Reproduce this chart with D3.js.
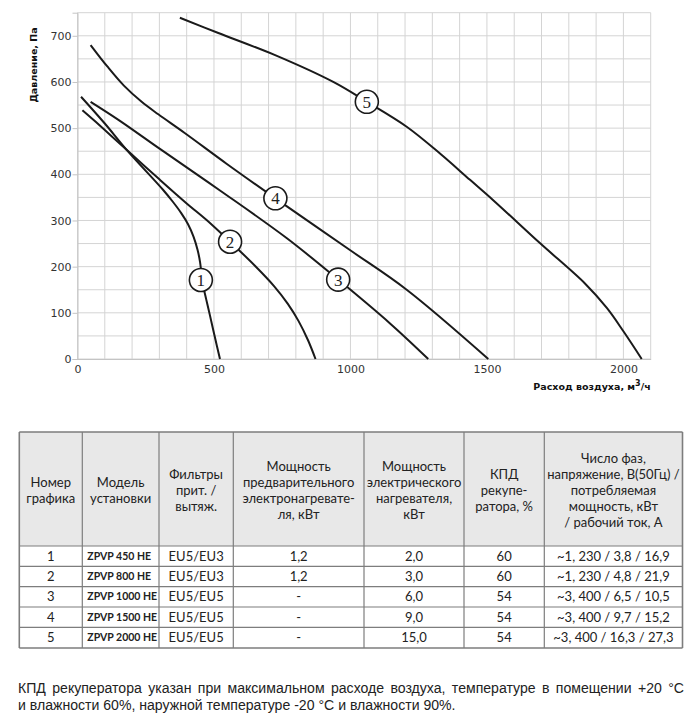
<!DOCTYPE html>
<html>
<head>
<meta charset="utf-8">
<script src="https://cdn.jsdelivr.net/npm/d3@7/dist/d3.min.js"></script>
<style>
  html, body { margin: 0; padding: 0; background: #fff; }
  svg { display: block; }
</style>
</head>
<body>
<svg id="chart" width="691" height="719"></svg>
<script>
// ---------------- DATA ----------------
const curve1 = [[13,568],[100,510],[180,453],[314,366],[350,340],[380,316],[405,292],[425,265],[440,236],[449,210],[454,185],[460,160],[472,128],[485,95],[503,48],[522,0]];
const curve2 = [[18,539],[100,496],[180,453],[302,388],[400,337],[473,301],[559,254],[650,202],[720,158],[770,120],[810,82],[845,40],[872,0]];
const curve3 = [[48,557],[150,518],[302,455],[522,365],[766,262],[955,172],[1145,77],[1285,0]];
const curve4 = [[48,680],[110,633],[170,592],[235,557],[296,530],[394,489],[546,423],[725,348],[998,236],[1206,150],[1505,0]];
const curve5 = [[375,739],[516,706],[724,658],[937,600],[1060,557],[1206,503],[1328,445],[1438,388],[1523,344],[1694,251],[1860,163],[1940,110],[2000,60],[2067,0]];
const curves = [curve1, curve2, curve3, curve4, curve5];
const curveLabels = ["1","2","3","4","5"];
const labelX = [452, 559, 955, 725, 1060];
const labelY = [171, 254, 172, 348, 557];

const xTicks = [0, 500, 1000, 1500, 2000];
const yTicks = [0, 100, 200, 300, 400, 500, 600, 700];
const xTitle = "Расход воздуха, м";
const xTitleSup = "3";
const xTitleEnd = "/ч";
const yTitle = "Давление, Па";

const headers = [
  ["Номер", "графика"],
  ["Модель", "установки"],
  ["Фильтры", "прит. /", "вытяж."],
  ["Мощность", "предварительного", "электронагревате-", "ля, кВт"],
  ["Мощность", "электрического", "нагревателя,", "кВт"],
  ["КПД", "рекупе-", "ратора, %"],
  ["Число фаз,", "напряжение, В(50Гц) /", "потребляемая", "мощность, кВт", "/ рабочий ток, А"]
];
const colNumber = ["1","2","3","4","5"];
const colModel = ["ZPVP 450 HE","ZPVP 800 HE","ZPVP 1000 HE","ZPVP 1500 HE","ZPVP 2000 HE"];
const colFilters = ["EU5/EU3","EU5/EU3","EU5/EU5","EU5/EU5","EU5/EU5"];
const colPreheat = ["1,2","1,2","-","-","-"];
const colHeater = ["2,0","3,0","6,0","9,0","15,0"];
const colEff = ["60","60","54","54","54"];
const colPower = ["~1, 230 / 3,8 / 16,9","~1, 230 / 4,8 / 21,9","~3, 400 / 6,5 / 10,5","~3, 400 / 9,7 / 15,2","~3, 400 / 16,3 / 27,3"];

const footLines = [
  "КПД рекуператора указан при максимальном расходе воздуха, температуре в помещении +20 °С",
  "и влажности 60%, наружной температуре -20 °С и влажности 90%."
];

// ---------------- CHART ----------------
const svg = d3.select("#chart");
svg.append("rect").attr("width", 691).attr("height", 719).attr("fill", "#fff");

const x = d3.scaleLinear().domain([0, 2100]).range([77.5, 650.7]);
const y = d3.scaleLinear().domain([0, 750]).range([359, 12.7]);

const grid = svg.append("g");
d3.range(0, 2101, 100).forEach(v => {
  grid.append("line").attr("x1", x(v)).attr("x2", x(v)).attr("y1", y(0)).attr("y2", y(750))
    .attr("stroke", "#d4d4d4").attr("stroke-width", 1);
});
d3.range(0, 751, 50).forEach(v => {
  grid.append("line").attr("x1", x(0)).attr("x2", x(2100)).attr("y1", y(v)).attr("y2", y(v))
    .attr("stroke", "#d4d4d4").attr("stroke-width", 1);
});

// axes (ticks + labels)
const yAxis = d3.axisLeft(y).tickValues(yTicks).tickSize(5).tickPadding(1).tickFormat(d3.format("d"));
const gy = svg.append("g").attr("transform", `translate(${x(0)},0)`).call(yAxis);
gy.select(".domain").attr("stroke", "#c4c4c4");
gy.selectAll(".tick line").attr("stroke", "#c4c4c4");
gy.selectAll(".tick text").attr("font-family", "DejaVu Sans, sans-serif").attr("font-size", 11).attr("fill", "#333");

const xAxis = d3.axisBottom(x).tickValues(xTicks).tickSize(0).tickPadding(6).tickFormat(d3.format("d"));
const gx = svg.append("g").attr("transform", `translate(0,${y(0)})`).call(xAxis);
gx.select(".domain").attr("stroke", "#c4c4c4");
gx.selectAll(".tick text").attr("font-family", "DejaVu Sans, sans-serif").attr("font-size", 11).attr("fill", "#333");

svg.append("text")
  .attr("transform", `translate(37,65) rotate(-90)`)
  .attr("text-anchor", "middle")
  .attr("font-family", "DejaVu Sans, sans-serif").attr("font-weight", "bold").attr("font-size", 9.5)
  .attr("fill", "#111").text(yTitle);

const xt = svg.append("text")
  .attr("x", x(2100)).attr("y", 390)
  .attr("text-anchor", "end")
  .attr("font-family", "DejaVu Sans, sans-serif").attr("font-weight", "bold").attr("font-size", 9.5)
  .attr("fill", "#111");
xt.append("tspan").text(xTitle);
xt.append("tspan").attr("dy", -4).attr("font-size", 8).text(xTitleSup);
xt.append("tspan").attr("dy", 4).text(xTitleEnd);

// curves
const line = d3.line().x(d => x(d[0])).y(d => y(d[1])).curve(d3.curveCatmullRom.alpha(0.5));
svg.append("g").selectAll("path").data(curves).join("path")
  .attr("d", line).attr("fill", "none").attr("stroke", "#1a1a1a").attr("stroke-width", 2);

// curve labels
const lab = svg.append("g").selectAll("g").data(curveLabels).join("g")
  .attr("transform", (d, i) => `translate(${x(labelX[i])},${y(labelY[i])})`);
lab.append("circle").attr("r", 11.5).attr("fill", "#fff").attr("stroke", "#1a1a1a").attr("stroke-width", 1.6);
lab.append("text").attr("text-anchor", "middle").attr("dy", "0.35em")
  .attr("font-family", "Liberation Serif, DejaVu Serif, serif").attr("font-size", 17).attr("fill", "#222")
  .text(d => d);

// ---------------- TABLE ----------------
const colEdges = [19.3, 82.3, 159, 233.3, 364, 464, 544.3, 682.5];
const rowEdges = [432, 546, 566.3, 586.6, 607, 627.3, 648];
const tbl = svg.append("g");
tbl.append("rect").attr("x", colEdges[0]).attr("y", rowEdges[0])
  .attr("width", colEdges[7] - colEdges[0]).attr("height", rowEdges[1] - rowEdges[0]).attr("fill", "#e8e8e8");

const hdrFont = "Lato, 'Open Sans', sans-serif";
headers.forEach((lines, c) => {
  const cx = (colEdges[c] + colEdges[c+1]) / 2;
  const cy = (rowEdges[0] + rowEdges[1]) / 2 + 1;
  const lh = 16;
  const t = tbl.append("text").attr("text-anchor", "middle")
    .attr("font-family", hdrFont).attr("font-size", 13).attr("fill", "#222");
  lines.forEach((s, k) => {
    t.append("tspan").attr("x", cx)
      .attr("y", cy + (k - (lines.length - 1) / 2) * lh)
      .attr("dy", "0.35em").text(s);
  });
});

const cols = [colNumber, colModel, colFilters, colPreheat, colHeater, colEff, colPower];
cols.forEach((col, c) => {
  const cx = c === 1 ? colEdges[1] + 5 : (colEdges[c] + colEdges[c+1]) / 2;
  col.forEach((v, r) => {
    const cy = (rowEdges[r+1] + rowEdges[r+2]) / 2;
    tbl.append("text").attr("x", cx).attr("y", cy).attr("dy", "0.35em")
      .attr("text-anchor", c === 1 ? "start" : "middle")
      .attr("font-family", hdrFont)
      .attr("font-size", c === 1 ? 10.5 : 13)
      .attr("font-weight", c === 1 ? "bold" : "normal")
      .attr("fill", "#222").text(v);
  });
});

rowEdges.forEach((ry, i) => {
  tbl.append("line").attr("x1", colEdges[0]).attr("x2", colEdges[7]).attr("y1", ry).attr("y2", ry)
    .attr("stroke", "#7d7d7d").attr("stroke-width", (i === 0 || i === rowEdges.length - 1) ? 1.6 : 1.2);
});
colEdges.forEach((cx, i) => {
  tbl.append("line").attr("x1", cx).attr("x2", cx).attr("y1", rowEdges[0]).attr("y2", rowEdges[rowEdges.length-1])
    .attr("stroke", "#7d7d7d").attr("stroke-width", (i === 0 || i === colEdges.length - 1) ? 1.6 : 1.2);
});

// ---------------- FOOTNOTE ----------------
const footFont = "'Liberation Sans', Arial, sans-serif";
const line2Target = 438, line1Target = 666;
const probe = svg.append("text").attr("font-family", footFont).attr("font-size", 14).text(footLines[1]);
const fs = 14 * line2Target / probe.node().getComputedTextLength();
probe.remove();
footLines.forEach((s, i) => {
  const t = svg.append("text").attr("x", 18).attr("y", 693 + i * 17)
    .attr("font-family", footFont)
    .attr("font-size", fs).attr("fill", "#222")
    .text(s);
  if (i === 0) {
    const w = t.node().getComputedTextLength();
    const gaps = s.split(" ").length - 1;
    t.attr("word-spacing", (line1Target - w) / gaps);
  }
});
</script>
</body>
</html>
